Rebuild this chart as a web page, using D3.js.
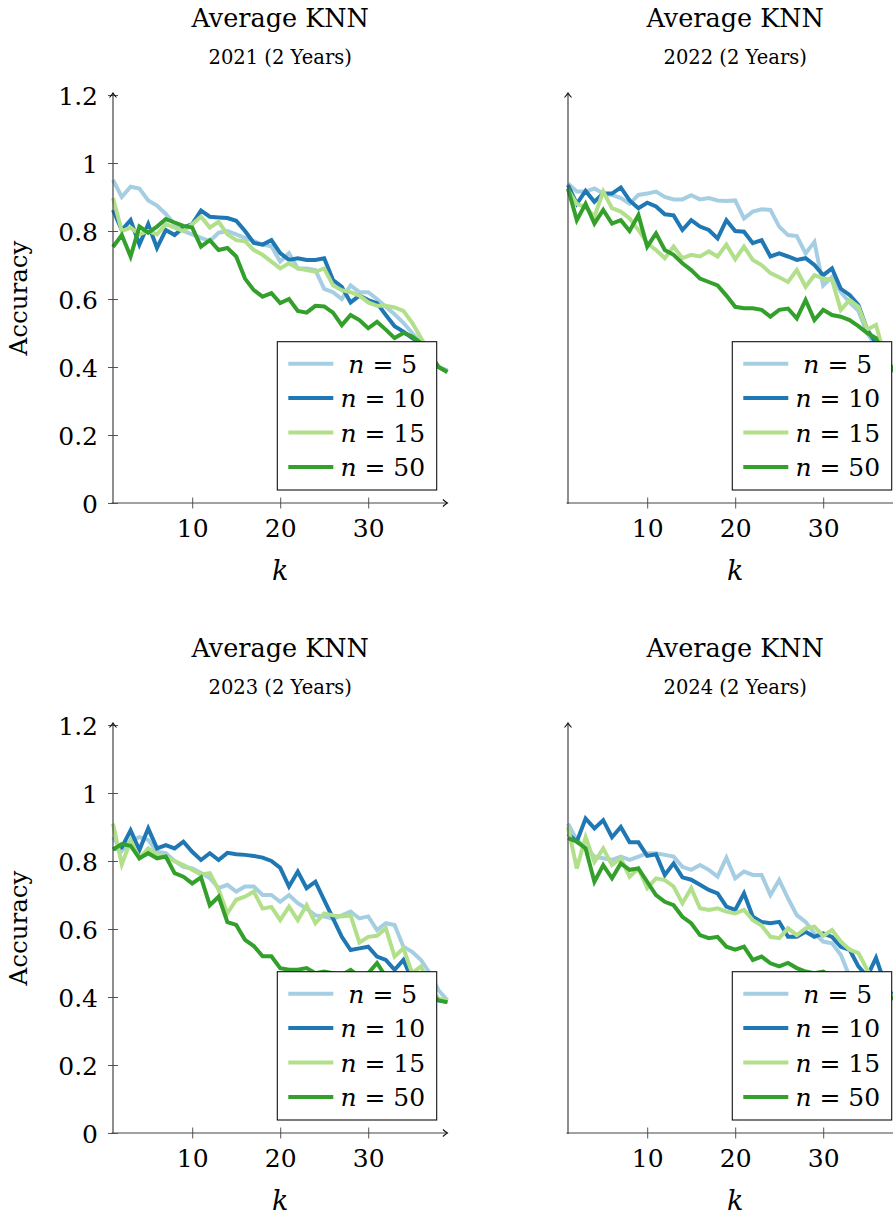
<!DOCTYPE html>
<html><head><meta charset="utf-8">
<script src="https://cdn.jsdelivr.net/npm/d3@7"></script>
<style>body{margin:0;background:#fff}svg{display:block}text{font-family:"DejaVu Serif",serif;fill:#000}</style>
</head><body><svg id="c" width="893" height="1215"></svg>
<script>
const ks = d3.range(1, 40);
const seriesNames = ["n = 5", "n = 10", "n = 15", "n = 50"];
const seriesN = ["5", "10", "15", "50"];
const colors = ["#a6cee3", "#1f78b4", "#b2df8a", "#33a02c"];
const years = ["2021", "2022", "2023", "2024"];
const yTickValues = [0, 0.2, 0.4, 0.6, 0.8, 1, 1.2];
const yTickLabels = ["0", "0.2", "0.4", "0.6", "0.8", "1", "1.2"];
const xTickValues = [10, 20, 30];

const acc2021_n5  = [0.95,0.90,0.93,0.925,0.89,0.875,0.85,0.82,0.80,0.79,0.78,0.77,0.795,0.80,0.79,0.78,0.77,0.76,0.755,0.71,0.735,0.69,0.69,0.685,0.63,0.62,0.60,0.64,0.62,0.62,0.60,0.577,0.555,0.53,0.50,0.47,0.43,0.40,0.39];
const acc2021_n10 = [0.862,0.803,0.832,0.76,0.82,0.75,0.803,0.788,0.81,0.82,0.86,0.842,0.84,0.838,0.83,0.80,0.765,0.76,0.773,0.735,0.715,0.72,0.715,0.715,0.72,0.656,0.636,0.59,0.61,0.597,0.588,0.553,0.52,0.504,0.485,0.47,0.43,0.40,0.385];
const acc2021_n15 = [0.897,0.80,0.81,0.79,0.80,0.79,0.82,0.81,0.80,0.82,0.842,0.81,0.827,0.79,0.773,0.77,0.744,0.73,0.71,0.69,0.705,0.69,0.685,0.68,0.69,0.64,0.626,0.62,0.61,0.59,0.58,0.58,0.575,0.565,0.53,0.485,0.44,0.40,0.385];
const acc2021_n50 = [0.753,0.788,0.725,0.813,0.795,0.813,0.835,0.825,0.815,0.81,0.754,0.773,0.744,0.75,0.725,0.66,0.626,0.607,0.617,0.588,0.60,0.565,0.56,0.58,0.578,0.56,0.523,0.553,0.538,0.514,0.533,0.51,0.485,0.50,0.49,0.47,0.44,0.40,0.385];

const acc2022_n5  = [0.94,0.916,0.916,0.925,0.91,0.906,0.897,0.88,0.906,0.91,0.916,0.90,0.893,0.893,0.905,0.893,0.897,0.89,0.888,0.89,0.837,0.857,0.864,0.862,0.813,0.788,0.785,0.734,0.768,0.64,0.665,0.62,0.59,0.565,0.50,0.46,0.42,0.39,0.385];
const acc2022_n10 = [0.935,0.88,0.918,0.886,0.91,0.91,0.928,0.89,0.867,0.883,0.872,0.849,0.846,0.803,0.832,0.813,0.803,0.778,0.832,0.80,0.798,0.764,0.773,0.725,0.734,0.725,0.715,0.72,0.70,0.67,0.69,0.63,0.612,0.582,0.51,0.47,0.42,0.39,0.385];
const acc2022_n15 = [0.92,0.88,0.87,0.842,0.916,0.867,0.857,0.837,0.803,0.764,0.744,0.72,0.754,0.72,0.73,0.725,0.74,0.725,0.76,0.717,0.754,0.715,0.70,0.676,0.664,0.65,0.685,0.636,0.67,0.66,0.656,0.568,0.597,0.577,0.51,0.524,0.43,0.39,0.385];
const acc2022_n50 = [0.925,0.832,0.88,0.822,0.862,0.822,0.832,0.80,0.847,0.754,0.793,0.744,0.73,0.705,0.685,0.66,0.65,0.64,0.61,0.577,0.573,0.573,0.568,0.548,0.568,0.572,0.543,0.597,0.538,0.568,0.553,0.548,0.538,0.52,0.50,0.485,0.43,0.39,0.385];

const acc2023_n5  = [0.87,0.83,0.86,0.87,0.862,0.827,0.823,0.80,0.783,0.778,0.765,0.75,0.72,0.73,0.71,0.725,0.725,0.70,0.70,0.68,0.70,0.676,0.66,0.64,0.637,0.63,0.64,0.651,0.631,0.637,0.597,0.617,0.612,0.548,0.533,0.509,0.47,0.42,0.39];
const acc2023_n10 = [0.835,0.84,0.89,0.832,0.896,0.837,0.847,0.837,0.857,0.827,0.803,0.823,0.803,0.824,0.82,0.818,0.815,0.81,0.80,0.78,0.725,0.769,0.72,0.739,0.685,0.631,0.577,0.538,0.543,0.548,0.519,0.509,0.48,0.509,0.45,0.43,0.41,0.39,0.385];
const acc2023_n15 = [0.91,0.79,0.86,0.808,0.837,0.82,0.81,0.80,0.788,0.774,0.76,0.764,0.715,0.646,0.686,0.695,0.71,0.66,0.665,0.626,0.666,0.626,0.67,0.617,0.646,0.64,0.637,0.64,0.56,0.577,0.58,0.602,0.519,0.543,0.47,0.49,0.43,0.395,0.39];
const acc2023_n50 = [0.834,0.85,0.845,0.808,0.823,0.808,0.813,0.764,0.754,0.734,0.752,0.67,0.695,0.62,0.612,0.568,0.55,0.52,0.52,0.485,0.48,0.48,0.485,0.47,0.475,0.47,0.465,0.48,0.46,0.47,0.50,0.46,0.47,0.45,0.44,0.43,0.41,0.39,0.385];

const acc2024_n5  = [0.91,0.862,0.84,0.813,0.808,0.803,0.813,0.803,0.813,0.823,0.823,0.818,0.813,0.783,0.774,0.788,0.774,0.754,0.81,0.749,0.769,0.759,0.759,0.70,0.744,0.69,0.641,0.621,0.587,0.563,0.558,0.524,0.46,0.45,0.44,0.42,0.41,0.395,0.39];
const acc2024_n10 = [0.88,0.857,0.925,0.896,0.92,0.87,0.90,0.855,0.855,0.815,0.82,0.759,0.793,0.752,0.745,0.73,0.715,0.705,0.666,0.656,0.705,0.636,0.621,0.617,0.621,0.577,0.577,0.592,0.577,0.587,0.577,0.548,0.539,0.49,0.46,0.515,0.44,0.40,0.39];
const acc2024_n15 = [0.90,0.778,0.87,0.797,0.837,0.788,0.808,0.754,0.778,0.72,0.749,0.744,0.725,0.676,0.72,0.661,0.656,0.661,0.651,0.646,0.656,0.626,0.61,0.577,0.573,0.602,0.582,0.602,0.607,0.58,0.597,0.563,0.539,0.529,0.48,0.44,0.42,0.40,0.39];
const acc2024_n50 = [0.867,0.857,0.837,0.739,0.788,0.749,0.793,0.774,0.778,0.739,0.70,0.68,0.67,0.636,0.617,0.582,0.573,0.577,0.548,0.539,0.548,0.509,0.519,0.499,0.49,0.50,0.485,0.475,0.47,0.475,0.46,0.455,0.45,0.44,0.43,0.42,0.41,0.395,0.39];

const panelData = [
  [acc2021_n5, acc2021_n10, acc2021_n15, acc2021_n50],
  [acc2022_n5, acc2022_n10, acc2022_n15, acc2022_n50],
  [acc2023_n5, acc2023_n10, acc2023_n15, acc2023_n50],
  [acc2024_n5, acc2024_n10, acc2024_n15, acc2024_n50]
];

const svg = d3.select("#c");
const defs = svg.append("defs");
defs.append("marker").attr("id", "arr").attr("viewBox", "-6 -5 8 10")
  .attr("markerWidth", 8).attr("markerHeight", 10).attr("refX", 0).attr("refY", 0)
  .attr("markerUnits", "userSpaceOnUse").attr("orient", "auto")
  .append("path").attr("d", "M-4.5,-3.5 Q-1.5,-0.8 0,0 Q-1.5,0.8 -4.5,3.5")
  .attr("fill", "none").attr("stroke", "#111").attr("stroke-width", 1.1);

const W = 334.4, H = 408;
const layout = [
  {ox: 113, oy: 503, showY: true},
  {ox: 568, oy: 503, showY: false},
  {ox: 113, oy: 1133, showY: true},
  {ox: 568, oy: 1133, showY: false}
];

layout.forEach((L, i) => {
  const x = d3.scaleLinear().domain([1, 39]).range([L.ox, L.ox + W]);
  const y = d3.scaleLinear().domain([0, 1.2]).range([L.oy, L.oy - H]);
  const g = svg.append("g");
  const cx = L.ox + W / 2;

  g.append("text").attr("x", cx).attr("y", L.oy - 476).attr("text-anchor", "middle")
    .style("font-size", "25.5px").text("Average KNN");
  g.append("text").attr("x", cx).attr("y", L.oy - 439).attr("text-anchor", "middle")
    .style("font-size", "19.5px").text(years[i] + " (2 Years)");

  // series lines
  const line = d3.line().x((d, j) => x(ks[j])).y(d => y(d));
  panelData[i].forEach((vals, s) => {
    g.append("path").datum(vals).attr("d", line).attr("fill", "none")
      .attr("stroke", colors[s]).attr("stroke-width", 4).attr("stroke-linejoin", "miter")
      .attr("stroke-miterlimit", 4);
  });

  // x axis
  const xa = g.append("g").attr("transform", `translate(0,${L.oy})`)
    .call(d3.axisBottom(x).tickValues(xTickValues).tickSize(0).tickPadding(0).tickFormat(d3.format("d")));
  xa.select(".domain").remove();
  xa.selectAll(".tick line").attr("y1", -5.5).attr("y2", 5.5).attr("stroke", "#555").attr("stroke-width", 1);
  xa.selectAll(".tick text").attr("y", 33.5).attr("dy", 0).style("font-size", "25px")
    .style("font-family", "DejaVu Serif").attr("fill", "#000");
  g.append("line").attr("x1", L.ox - 1.5).attr("x2", x(39)).attr("y1", L.oy).attr("y2", L.oy)
    .attr("stroke", "#444").attr("stroke-width", 1.2).attr("marker-end", "url(#arr)");

  // y axis
  if (L.showY) {
    const ya = g.append("g").attr("transform", `translate(${L.ox},0)`)
      .call(d3.axisLeft(y).tickValues(yTickValues).tickSize(0).tickPadding(0)
        .tickFormat((d, j) => yTickLabels[j]));
    ya.select(".domain").remove();
    ya.selectAll(".tick line").attr("x1", -5).attr("x2", 5).attr("stroke", "#555").attr("stroke-width", 1);
    ya.selectAll(".tick text").attr("x", -15).attr("dy", "0.36em").style("font-size", "25px")
      .style("font-family", "DejaVu Serif").attr("fill", "#000");
    g.append("text").attr("transform", `translate(${L.ox - 86},${L.oy - 205}) rotate(-90)`)
      .attr("text-anchor", "middle").style("font-size", "24.5px").text("Accuracy");
  }
  g.append("line").attr("x1", L.ox).attr("x2", L.ox).attr("y1", L.oy + 1).attr("y2", y(1.2) - 2)
    .attr("stroke", "#444").attr("stroke-width", 1.2).attr("marker-end", "url(#arr)");

  // x label
  g.append("text").attr("x", cx).attr("y", L.oy + 77).attr("text-anchor", "middle")
    .style("font-size", "27px").style("font-style", "italic").text("k");

  // legend
  const lx = L.ox + 164.3, ly = L.oy - 161.3;
  g.append("rect").attr("x", lx).attr("y", ly).attr("width", 159.4).attr("height", 148.3)
    .attr("fill", "#fff").attr("stroke", "#111").attr("stroke-width", 1.1);
  seriesN.forEach((nv, s) => {
    const yy = ly + 22 + s * 34.4;
    g.append("line").attr("x1", lx + 11).attr("x2", lx + 56).attr("y1", yy).attr("y2", yy)
      .attr("stroke", colors[s]).attr("stroke-width", 4);
    const t = g.append("text").attr("x", lx + 105.5).attr("y", yy).attr("dy", "0.36em")
      .attr("text-anchor", "middle").style("font-size", "25px");
    t.append("tspan").style("font-style", "italic").text("n");
    t.append("tspan").text(" = " + nv);
  });
});
</script></body></html>
